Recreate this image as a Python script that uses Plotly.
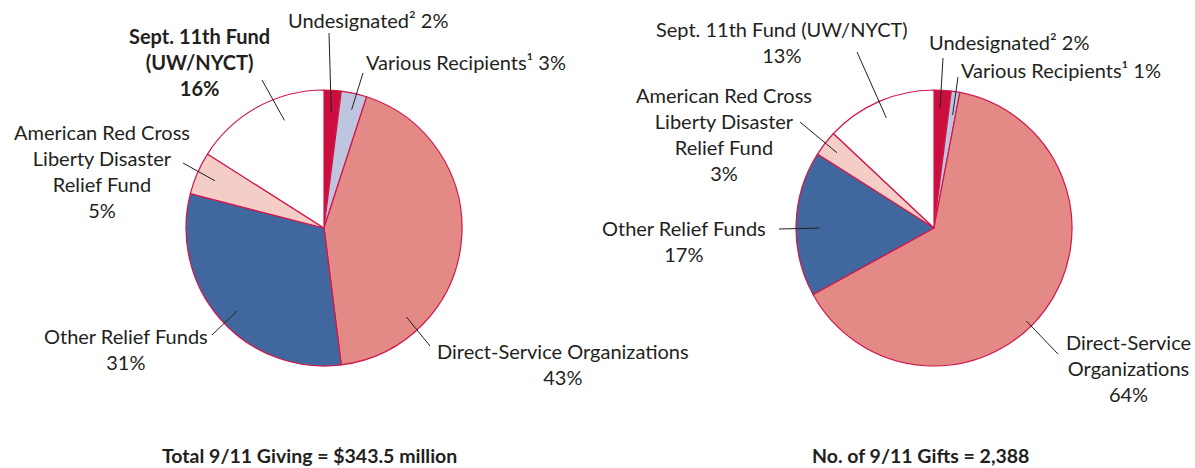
import math
import plotly.graph_objects as go

W, H = 1195, 468

# data
categories = ["Undesignated", "Various Recipients", "Direct-Service Organizations",
              "Other Relief Funds", "American Red Cross Liberty Disaster Relief Fund",
              "Sept. 11th Fund (UW/NYCT)"]
giving_pct = [2, 3, 43, 31, 5, 16]
gifts_pct = [2, 1, 64, 17, 3, 13]
giving_title = "Total 9/11 Giving = $343.5 million"
gifts_title = "No. of 9/11 Gifts = 2,388"

COLORS = ["#CC0E3E", "#BEC6DF", "#E38A87", "#41689E", "#F4CDC7", "#FFFFFF"]
EDGE = "#D2164A"
INK = "#231F20"
FONT = "Lato"
SIZE = 20

# pie placement in pixels: centre x, centre y, radius
PIES = [(324, 228, 138), (934, 228, 138)]

# label text, label centre (px), leader outer end (px), position inside slice (frac of arc, frac of radius)
left_labels = [
    ("Undesignated² 2%", (368, 20), (329, 33), (0.5, 0.84), False),
    ("Various Recipients¹ 3%", (466, 62), (363, 73), (0.55, 0.88), False),
    ("Direct-Service Organizations<br>43%", (563, 364), (430, 346), (0.77, 0.88), False),
    ("Other Relief Funds<br>31%", (126, 349), (212, 335), (0.48, 0.87), False),
    ("American Red Cross<br>Liberty Disaster<br>Relief Fund<br>5%", (102, 171), (183, 163), (0.5, 0.86), False),
    ("Sept. 11th Fund<br>(UW/NYCT)<br>16%", (199, 62), (262, 80), (0.65, 0.83), True),
]
right_labels = [
    ("Undesignated² 2%", (1009, 42), (943, 58), (0.4, 0.87), False),
    ("Various Recipients¹ 1%", (1061, 70), (958, 77), (0.6, 0.83), False),
    ("Direct-Service<br>Organizations<br>64%", (1128, 368), (1058, 354), (0.54, 0.95), False),
    ("Other Relief Funds<br>17%", (684, 241), (779, 229), (0.47, 0.83), False),
    ("American Red Cross<br>Liberty Disaster<br>Relief Fund<br>3%", (724, 134), (800, 122), (0.5, 0.89), False),
    ("Sept. 11th Fund (UW/NYCT)<br>13%", (782, 42), (857, 52), (0.5, 0.87), False),
]


def px_x(x):
    return x / W


def px_y(y):
    return 1 - y / H


fig = go.Figure()
annotations = []
shapes = []

for (cx, cy, r), values, labels, title, tx in [
    (PIES[0], giving_pct, left_labels, giving_title, 309),
    (PIES[1], gifts_pct, right_labels, gifts_title, 920),
]:
    fig.add_trace(go.Pie(
        labels=categories,
        values=values,
        sort=False,
        direction="clockwise",
        rotation=0,
        textinfo="none",
        hoverinfo="label+percent",
        marker=dict(colors=COLORS, line=dict(color=EDGE, width=1.2)),
        domain=dict(x=[px_x(cx - r), px_x(cx + r)], y=[px_y(cy + r), px_y(cy - r)]),
        showlegend=False,
    ))

    total = sum(values)
    start = 0.0
    for v, (text, (lx, ly), (ox, oy), (fa, fr), bold) in zip(values, labels):
        span = 360.0 * v / total
        ang = math.radians(start + fa * span)
        ix = cx + fr * r * math.sin(ang)
        iy = cy - fr * r * math.cos(ang)
        start += span
        shapes.append(dict(type="line", xref="paper", yref="paper",
                           x0=px_x(ox), y0=px_y(oy), x1=px_x(ix), y1=px_y(iy),
                           line=dict(color=INK, width=1)))
        annotations.append(dict(
            text=f"<b>{text}</b>" if bold else text,
            x=px_x(lx), y=px_y(ly), xref="paper", yref="paper",
            xanchor="center", yanchor="middle", showarrow=False,
            font=dict(family=FONT, size=SIZE, color=INK),
        ))

    annotations.append(dict(
        text=f"<b>{title}</b>", x=px_x(tx), y=px_y(455),
        xref="paper", yref="paper", xanchor="center", yanchor="middle",
        showarrow=False, font=dict(family=FONT, size=19.5, color=INK),
    ))

fig.update_layout(
    width=W, height=H,
    margin=dict(l=0, r=0, t=0, b=0),
    paper_bgcolor="white",
    plot_bgcolor="white",
    annotations=annotations,
    shapes=shapes,
)

fig.write_html("out.html", config={"displayModeBar": False},
               post_script="document.body.style.margin='0';")
